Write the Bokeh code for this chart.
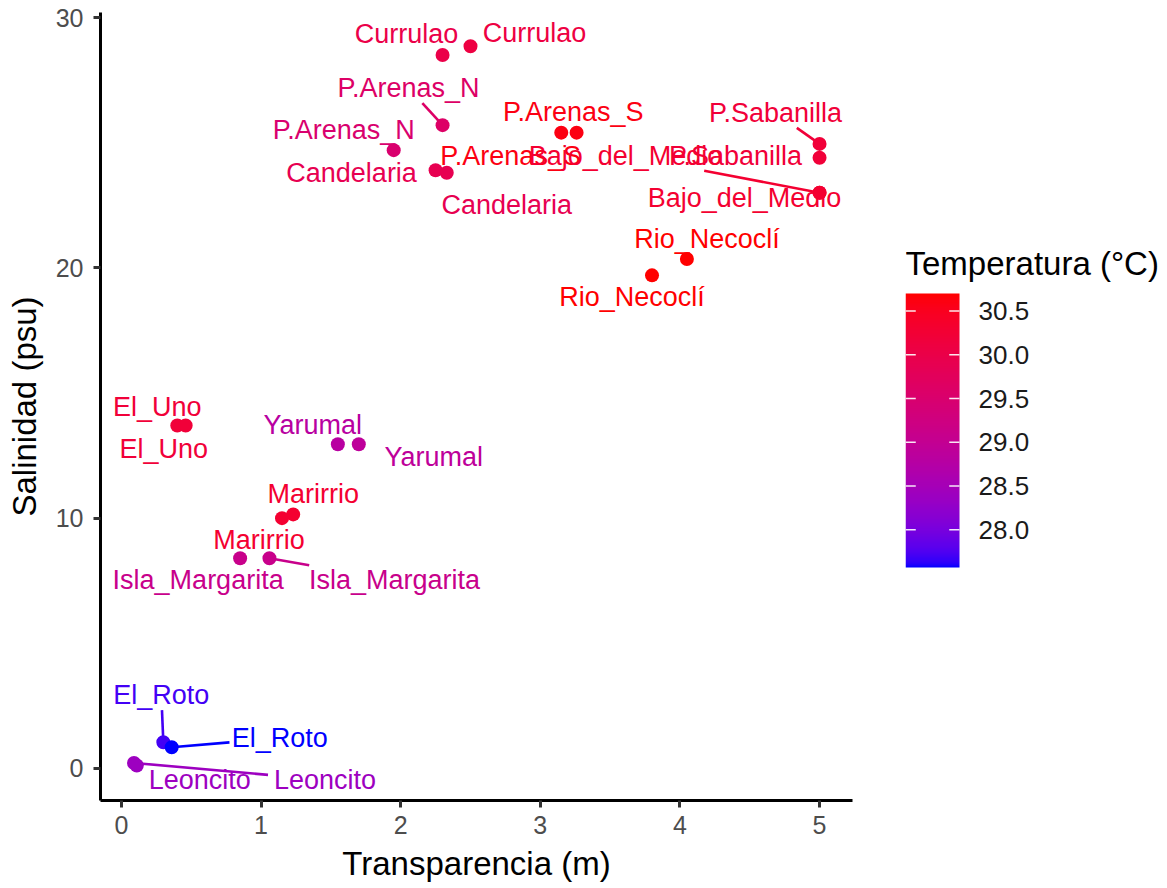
import numpy as np
from bokeh.plotting import figure
from bokeh.layouts import row
from bokeh.models import Range1d, LinearColorMapper, FixedTicker, ColumnDataSource
from bokeh.core.properties import value
from bokeh.transform import transform
from bokeh.embed import file_html
from bokeh.resources import INLINE

# ---------------- data ----------------
sites = ["Currulao", "Currulao", "P.Arenas_N", "P.Arenas_N", "Candelaria", "Candelaria",
         "P.Arenas_S", "P.Arenas_S", "P.Sabanilla", "P.Sabanilla", "Bajo_del_Medio", "Bajo_del_Medio",
         "Rio_Necoclí", "Rio_Necoclí", "El_Uno", "El_Uno", "Yarumal", "Yarumal",
         "Marirrio", "Marirrio", "Isla_Margarita", "Isla_Margarita", "El_Roto", "El_Roto",
         "Leoncito", "Leoncito"]
transparencia = [2.30, 2.50, 2.30, 1.95, 2.25, 2.33, 3.15, 3.26, 5.0, 5.0, 5.0, 5.0,
                 4.05, 3.80, 0.40, 0.46, 1.55, 1.70, 1.23, 1.15, 0.85, 1.06, 0.30, 0.36,
                 0.11, 0.09]
salinidad = [28.5, 28.85, 25.7, 24.7, 23.9, 23.8, 25.4, 25.4, 24.95, 24.4, 23.0, 23.0,
             20.35, 19.7, 13.7, 13.7, 12.95, 12.95, 10.15, 10.0, 8.4, 8.4, 1.05, 0.85,
             0.12, 0.22]
temperatura = [30.0, 30.1, 29.6, 29.5, 29.9, 29.9, 30.6, 30.6, 30.2, 30.2, 30.3, 30.3,
               30.7, 30.7, 30.2, 30.2, 28.8, 28.9, 30.3, 30.3, 29.1, 29.1, 27.7, 27.57,
               28.4, 28.4]

x_ticks = [0, 1, 2, 3, 4, 5]
y_ticks = [0, 10, 20, 30]
cbar_ticks = [28.0, 28.5, 29.0, 29.5, 30.0, 30.5]
cbar_title = "Temperatura (°C)"

# ---------------- label layout (repel offsets, screen px) ----------------
label_dx = [-36, 64, -34, -50, -84, 60, 12, -66, -44, -84, -75, -194,
            20, -20, -20, -22, -25, 75, 20, -23, -42, 125, -2, 108, 63, 191]
label_dy = [-21, -13, -37, -20, 3, 32, -21, 23, -31, -2, 5, -37,
            -20, 22, -19, 23, -19, 13, -20, 22, 22, 22, -47, -9, 15, 17]
leader = [False, False, True, False, False, False, False, False, True, False, False, True,
          False, False, False, False, False, False, False, False, False, True, True, True,
          False, True]

FONT = "Liberation Sans"
LABEL_PX = 27

# ---------------- Lab colour ramp blue -> red ----------------
M = np.array([[0.4124564, 0.3575761, 0.1804375],
              [0.2126729, 0.7151522, 0.0721750],
              [0.0193339, 0.1191920, 0.9503041]])
WHITE = np.array([0.95047, 1.0, 1.08883])


def rgb2lab(rgb):
    c = np.array(rgb, float) / 255
    lin = np.where(c <= 0.04045, c / 12.92, ((c + 0.055) / 1.055) ** 2.4)
    xyz = M @ lin / WHITE
    f = np.where(xyz > 216 / 24389, np.cbrt(xyz), (24389 / 27 * xyz + 16) / 116)
    return np.array([116 * f[1] - 16, 500 * (f[0] - f[1]), 200 * (f[1] - f[2])])


def lab2hex(lab):
    L, a, b = lab
    fy = (L + 16) / 116
    f = np.array([fy + a / 500, fy, fy - b / 200])
    xyz = np.where(f ** 3 > 216 / 24389, f ** 3, (116 * f - 16) / (24389 / 27)) * WHITE
    lin = np.clip(np.linalg.inv(M) @ xyz, 0, 1)
    c = np.where(lin <= 0.0031308, 12.92 * lin, 1.055 * lin ** (1 / 2.4) - 0.055)
    return "#%02x%02x%02x" % tuple(int(round(v * 255)) for v in np.clip(c, 0, 1))


lo_lab, hi_lab = rgb2lab((0, 0, 255)), rgb2lab((255, 0, 0))
palette = [lab2hex(lo_lab + (hi_lab - lo_lab) * t) for t in np.linspace(0, 1, 256)]
tmin, tmax = min(temperatura), max(temperatura)
mapper = LinearColorMapper(palette=palette, low=tmin, high=tmax)

# ---------------- main figure ----------------
W, H = 870, 888
BL, BR, BT, BB = 100, 18, 12, 88
xr = Range1d(-0.150, 5.236)
yr = Range1d(-1.28, 30.2)
sx = (W - BL - BR) / (xr.end - xr.start)
sy = (H - BT - BB) / (yr.end - yr.start)

lab_x, lab_y, sx0, sy0, sx1, sy1, seg_t = [], [], [], [], [], [], []
for i, s in enumerate(sites):
    lx = transparencia[i] + label_dx[i] / sx
    ly = salinidad[i] - label_dy[i] / sy
    lab_x.append(lx)
    lab_y.append(ly)
    if leader[i]:
        hw = 0.5 * LABEL_PX * len(s) / 2 + 3
        hh = 15
        dx, dy = -label_dx[i], -label_dy[i]  # from label centre towards point (px)
        k = min(hw / abs(dx) if dx else 1e9, hh / abs(dy) if dy else 1e9)
        sx0.append(transparencia[i])
        sy0.append(salinidad[i])
        sx1.append(lx + dx * k / sx)
        sy1.append(ly - dy * k / sy)
        seg_t.append(temperatura[i])

src = ColumnDataSource(dict(x=transparencia, y=salinidad, t=temperatura, site=sites,
                            lx=lab_x, ly=lab_y))
seg_src = ColumnDataSource(dict(x0=sx0, y0=sy0, x1=sx1, y1=sy1, t=seg_t))

p = figure(width=W, height=H, x_range=xr, y_range=yr, output_backend="svg",
           toolbar_location=None, min_border_left=BL, min_border_right=BR,
           min_border_top=BT, min_border_bottom=BB)
p.outline_line_color = None
p.grid.visible = False

p.scatter("x", "y", source=src, size=14, color=transform("t", mapper), line_color=None)
p.segment("x0", "y0", "x1", "y1", source=seg_src, line_width=2.6,
          line_color=transform("t", mapper))
p.text("lx", "ly", text="site", source=src, text_align="center", text_baseline="middle",
       text_color=transform("t", mapper), text_font=value(FONT),
       text_font_size=f"{LABEL_PX}px")

p.xaxis.ticker = FixedTicker(ticks=x_ticks)
p.yaxis.ticker = FixedTicker(ticks=y_ticks)
p.xaxis.axis_label = "Transparencia (m)"
p.yaxis.axis_label = "Salinidad (psu)"
for ax in (p.xaxis, p.yaxis):
    ax.axis_line_color = "black"
    ax.axis_line_width = 3
    ax.major_tick_line_color = "#333333"
    ax.major_tick_line_width = 3
    ax.major_tick_out = 7
    ax.major_tick_in = 0
    ax.minor_tick_line_color = None
    ax.major_label_text_font = FONT
    ax.major_label_text_font_size = "25px"
    ax.major_label_text_color = "#4d4d4d"
    ax.axis_label_text_font = FONT
    ax.axis_label_text_font_size = "33px"
    ax.axis_label_text_font_style = "normal"
    ax.axis_label_text_color = "black"
p.xaxis.major_label_standoff = 8
p.yaxis.major_label_standoff = 10
p.xaxis.axis_label_standoff = 8
p.yaxis.axis_label_standoff = 10

# ---------------- colour bar figure (same frame height as main plot) ----------------
CW = 1167 - W
CB_LEFT = 35
bar_top_px, bar_bot_px, bar_w = 293, 567, 54
ppu = (bar_bot_px - bar_top_px) / (tmax - tmin)
cy_end = tmax + (bar_top_px - BT) / ppu
cy_start = tmin - ((H - BB) - bar_bot_px) / ppu
cb = figure(width=CW, height=H, x_range=Range1d(0, CW - CB_LEFT),
            y_range=Range1d(cy_start, cy_end), output_backend="svg", toolbar_location=None,
            x_axis_location=None, y_axis_location=None, min_border_left=CB_LEFT,
            min_border_right=0, min_border_top=BT, min_border_bottom=BB)
cb.outline_line_color = None
cb.grid.visible = False
cb.image(image=[np.linspace(tmin, tmax, 256).reshape(-1, 1)], x=0, y=tmin, dw=bar_w,
         dh=tmax - tmin, color_mapper=mapper)
nt = len(cbar_ticks)
cb.segment(x0=[0] * nt, x1=[bar_w * 0.19] * nt, y0=cbar_ticks, y1=cbar_ticks,
           line_color="white", line_width=1.5, line_alpha=0.9)
cb.segment(x0=[bar_w * 0.81] * nt, x1=[bar_w] * nt, y0=cbar_ticks, y1=cbar_ticks,
           line_color="white", line_width=1.5, line_alpha=0.9)
cb.text(x=[bar_w + 19] * nt, y=cbar_ticks, text=["%.1f" % v for v in cbar_ticks],
        text_align="left", text_baseline="middle", text_color="#1a1a1a",
        text_font=value(FONT), text_font_size="26px")
cb.text(x=[0], y=[tmax + 30 / ppu], text=[cbar_title], text_align="left",
        text_baseline="middle", text_color="black", text_font=value(FONT),
        text_font_size="33px")

layout = row(p, cb)
open("out.html", "w").write(file_html(layout, INLINE))
